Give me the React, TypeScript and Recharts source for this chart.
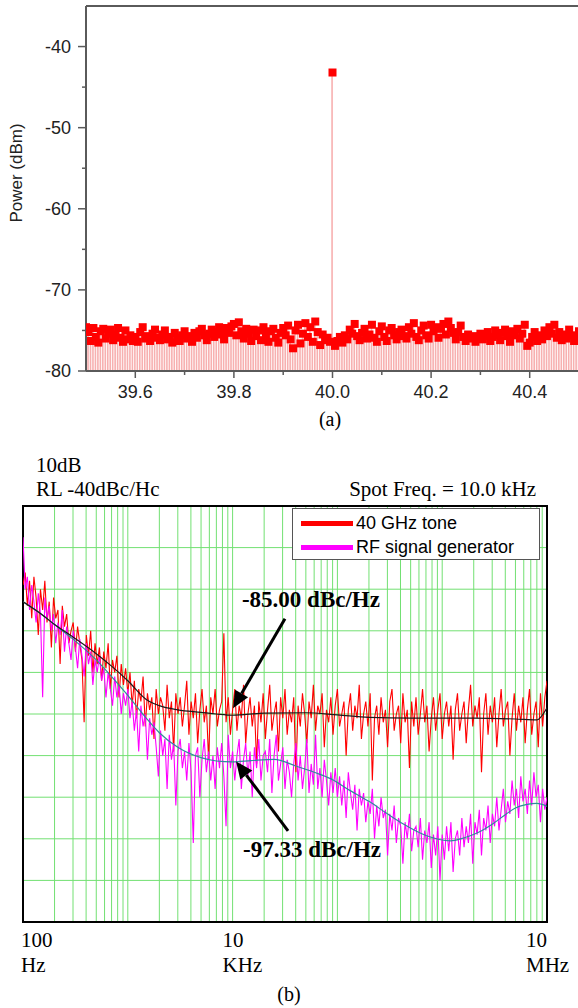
import React from "react";
import {
  ComposedChart,
  LineChart,
  Line,
  Bar,
  Scatter,
  XAxis,
  YAxis,
  CartesianGrid,
  ReferenceLine,
  ReferenceArea,
  Legend,
} from "recharts";

const SERIF = '"Liberation Serif", "Times New Roman", serif';
const SANS = '"Liberation Sans", Arial, sans-serif';

// ---- (a) RF spectrum around 40 GHz ----
const SPEC_START_GHZ = 39.5;
const SPEC_STEP_GHZ = 0.005;
const SPEC_DBM = [
  -74.6, -75.2, -76.3, -74.7, -75.8, -76.5, -75.1, -74.8, -76.0, -75.4,
  -74.9, -76.2, -75.5, -74.7, -75.9, -76.4, -75.0, -76.1, -75.6, -76.3,
  -75.8, -76.4, -75.2, -74.6, -76.0, -75.7, -76.3, -75.4, -74.9, -75.9,
  -76.2, -75.5, -75.0, -76.1, -75.8, -76.5, -75.3, -75.9, -76.3, -75.6,
  -75.1, -76.0, -75.7, -76.4, -75.3, -75.9, -75.1, -74.8, -75.6, -76.2,
  -75.4, -74.9, -75.8, -75.2, -74.6, -75.5, -76.1, -74.7, -75.3, -74.5,
  -74.2, -75.6, -74.0, -75.1, -76.0, -74.8, -75.4, -76.3, -74.9, -75.7,
  -75.0, -76.2, -74.6, -75.5, -76.4, -75.1, -74.8, -75.9, -76.5, -75.3,
  -74.7, -75.6, -74.4, -76.1, -77.2, -75.0, -74.3, -76.6, -75.4, -74.1,
  -75.8, -74.6, -76.4, -73.9, -75.2, -76.8, -75.5, -76.2, -75.9, -76.4,
  -43.2,
  -76.9, -76.3, -75.8, -76.5, -75.6, -76.1, -74.9, -75.4, -74.2,
  -75.7, -76.2, -75.3, -74.8, -76.0, -75.5, -74.3, -75.9, -76.4, -75.1,
  -74.5, -75.8, -76.3, -75.0, -74.7, -75.6, -76.1, -75.2, -74.9, -75.7,
  -76.0, -74.6, -75.4, -74.1, -75.8, -76.2, -75.0, -74.4, -75.6, -76.0,
  -74.3, -75.1, -74.6, -75.9, -74.8, -74.2, -75.5, -73.9, -74.7, -75.3,
  -76.1, -75.2, -74.4, -75.8, -76.3, -75.5, -76.0, -75.7, -76.4, -75.9,
  -75.4, -76.1, -75.7, -75.2, -76.3, -75.8, -75.0, -75.6, -76.2, -75.3,
  -74.9, -75.7, -76.4, -75.1, -75.6, -74.8, -76.0, -75.4, -74.3, -76.9,
  -76.5, -75.8, -75.2, -76.3, -75.6, -76.1, -75.0, -75.7, -74.6, -75.4,
  -74.3, -75.9, -75.2, -76.2, -75.5, -76.0, -74.9, -75.6, -76.3, -75.8,
  -75.1,
];
const SPEC_X_TICKS = [39.6, 39.7, 39.8, 39.9, 40.0, 40.1, 40.2, 40.3, 40.4];
const SPEC_X_LABELED = [39.6, 39.8, 40.0, 40.2, 40.4];
const SPEC_Y_TICKS = [-80, -75, -70, -65, -60, -55, -50, -45, -40];
const SPEC_Y_LABELED = [-80, -70, -60, -50, -40];

// ---- (b) phase noise, 100 Hz .. 10 MHz, 48 sweep points per decade ----
const SWEEP_START_HZ = 100;
const SWEEP_PTS_PER_DECADE = 48;
const TONE_DBC = [
  -59, -56, -64, -58, -67, -57, -62, -71, -60, -65, -58, -68,
  -63, -74, -62, -67, -65, -78, -64, -69, -66, -73, -70, -68,
  -75, -69, -73, -77, -92, -71, -76, -70, -80, -73, -78, -74,
  -82, -75, -79, -73, -84, -77, -80, -76, -86, -78, -83, -79,
  -85, -80, -88, -82, -91, -84, -87, -81, -93, -85, -89, -86,
  -96, -84, -90, -86, -88, -94, -83, -91, -87, -99, -85, -90,
  -86, -93, -88, -82, -95, -87, -91, -85, -97, -89, -84, -92,
  -88, -101, -86, -90, -84, -93, -89, -87, -70.6, -92, -86, -95,
  -89, -84, -94, -88, -91, -83, -97, -90, -86, -93, -88, -102,
  -87, -92, -85, -96, -89, -83, -94, -90, -87, -99, -86, -91,
  -84, -95, -89, -92, -86, -104, -88, -93, -85, -90, -97, -87,
  -91, -83, -94, -88, -90, -85, -98, -89, -92, -86, -95, -88,
  -84, -93, -90, -87, -100, -89, -85, -94, -88, -91, -83, -96,
  -90, -87, -93, -85, -106, -91, -88, -95, -86, -92, -89, -98,
  -87, -84, -94, -90, -88, -97, -85, -92, -89, -103, -87, -93,
  -86, -95, -90, -84, -92, -88, -99, -91, -86, -94, -89, -85,
  -96, -90, -87, -93, -88, -101, -89, -85, -94, -90, -87, -97,
  -89, -83, -93, -88, -91, -86, -104, -90, -85, -95, -88, -92,
  -86, -98, -90, -84, -93, -89, -87, -100, -91, -85, -94, -88,
  -92, -86, -97, -89, -84, -95, -90, -87, -98, -85, -93, -86,
  -82,
];
const GEN_DBC = [
  -47.5, -60, -57, -65, -59, -63, -68, -61, -66, -86, -62, -67,
  -64, -70, -66, -73, -68, -71, -65, -75, -69, -73, -77, -70,
  -74, -79, -72, -76, -81, -73, -78, -75, -83, -77, -80, -76,
  -82, -79, -86, -80, -84, -88, -81, -86, -83, -90, -85, -88,
  -84, -91, -87, -94, -89, -99, -88, -93, -90, -101, -91, -95,
  -92, -98, -105, -94, -100, -96, -108, -95, -101, -97, -112, -99,
  -96, -103, -99, -106, -97, -104, -121, -100, -98, -110, -101, -96,
  -104, -99, -106, -100, -108, -98, -103, -97, -105, -117, -95, -103,
  -99, -106, -100, -96, -108, -101, -97, -105, -99, -110, -98, -103,
  -96, -106, -100, -99, -104, -96, -109, -100, -95, -106, -102, -98,
  -108, -101, -104, -110, -102, -97, -106, -100, -108, -103, -96, -109,
  -102, -107, -95, -108, -103, -110, -101, -106, -112, -104, -109, -103,
  -110, -105, -112, -106, -115, -104, -109, -113, -107, -118, -108, -112,
  -109, -116, -111, -114, -108, -120, -112, -117, -110, -115, -113, -124,
  -114, -118, -112, -121, -115, -117, -126, -116, -120, -114, -123, -118,
  -117, -122, -115, -125, -118, -121, -116, -127, -119, -124, -117, -130,
  -119, -125, -117, -123, -116, -128, -120, -118, -124, -115, -122, -117,
  -121, -114, -126, -116, -119, -113, -124, -115, -118, -112, -121, -114,
  -117, -110, -118, -113, -108, -116, -111, -114, -106, -112, -108, -115,
  -105, -111, -108, -114, -106, -112, -104, -110, -107, -116, -108, -113,
  -110,
];
// smoothed (averaged) traces drawn by the analyzer
const TONE_AVG_HZ = [100, 150, 200, 300, 500, 700, 1000, 1500, 2000, 3000, 5000, 7000, 10000, 20000, 50000, 1e5, 2e5, 5e5, 1e6, 2e6, 5e6, 8e6, 1e7];
const TONE_AVG_DBC = [-63, -66, -68.5, -71.5, -75.5, -78.5, -82, -86.5, -88, -89, -89.6, -90, -90.3, -89.8, -89.7, -90.2, -90.8, -91, -91, -91, -91.2, -91.4, -88.5];
const GEN_AVG_HZ = [100, 150, 200, 300, 500, 700, 1000, 1500, 2000, 3000, 5000, 7000, 10000, 15000, 25000, 40000, 60000, 87000, 130000, 200000, 300000, 430000, 700000, 1.2e6, 1.6e6, 2.2e6, 3e6, 4e6, 5e6, 6.3e6, 8e6, 1e7];
const GEN_AVG_DBC = [-63, -66, -68.5, -72, -77, -81, -85.5, -91, -94.5, -98, -100.5, -101.3, -101.5, -101.2, -100.9, -102.5, -104, -105.6, -108.3, -111, -114, -116.5, -119.2, -120.5, -119.8, -118.5, -116.5, -114.2, -112.6, -111.8, -111.5, -112.2];

const DECADES_HZ = [100, 1000, 10000, 100000, 1000000];
const GRID_MULT = [1, 2, 3, 4, 5, 6, 7, 8, 9];
const GRID_HZ = [...DECADES_HZ.flatMap((d) => GRID_MULT.map((m) => d * m)), 1e7];
const DBC_TICKS = [-140, -130, -120, -110, -100, -90, -80, -70, -60, -50, -40];
const FREQ_LABEL_HZ = [100, 10000, 10000000];
const FREQ_LABEL_NUM = ["100", "10", "10"];
const FREQ_LABEL_UNIT = ["Hz", "KHz", "MHz"];

const specData = SPEC_DBM.map((p, i) => ({
  f: SPEC_START_GHZ + i * SPEC_STEP_GHZ,
  p,
  range: [-80, p],
}));
const sweepHz = TONE_DBC.map((_, i) => SWEEP_START_HZ * Math.pow(10, i / SWEEP_PTS_PER_DECADE));
const toneData = sweepHz.map((f, i) => ({ f, v: TONE_DBC[i] }));
const genData = sweepHz.map((f, i) => ({ f, v: GEN_DBC[i] }));
const toneAvg = TONE_AVG_HZ.map((f, i) => ({ f, v: TONE_AVG_DBC[i] }));
const genAvg = GEN_AVG_HZ.map((f, i) => ({ f, v: GEN_AVG_DBC[i] }));

const near = (a: number, b: number) => Math.abs(a - b) < 1e-6;

function SpecXTick({ x, y, payload }: any) {
  const major = SPEC_X_LABELED.some((m) => near(m, payload.value));
  return (
    <g>
      <line x1={x} y1={y} x2={x} y2={y + (major ? 7 : 4)} stroke="#5a5a5a" strokeWidth={1.5} />
      {major && (
        <text x={x} y={y + 27} textAnchor="middle" fontFamily={SANS} fontSize={18} fill="#222">
          {payload.value.toFixed(1)}
        </text>
      )}
    </g>
  );
}

function SpecYTick({ x, y, payload }: any) {
  const major = SPEC_Y_LABELED.some((m) => near(m, payload.value));
  return (
    <g>
      <line x1={x - (major ? 8 : 4)} y1={y} x2={x} y2={y} stroke="#5a5a5a" strokeWidth={1.5} />
      {major && (
        <text x={x - 15} y={y + 6} textAnchor="end" fontFamily={SANS} fontSize={18} fill="#222">
          {payload.value}
        </text>
      )}
    </g>
  );
}

function FreqTick({ x, y, payload }: any) {
  const k = FREQ_LABEL_HZ.findIndex((v) => Math.abs(v - payload.value) / v < 1e-6);
  if (k < 0) return <g />;
  // 100 Hz sits at the left corner, 10 MHz at the right one
  const numX = k === 0 ? x - 2 : k === 1 ? x - 10 : x;
  const numAnchor = k === 2 ? "end" : "start";
  const unitX = k === 0 ? x - 2 : k === 1 ? x - 10 : x - 21;
  return (
    <g fontFamily={SERIF} fontSize={21} fill="#000">
      <text x={numX} y={y + 25} textAnchor={numAnchor}>{FREQ_LABEL_NUM[k]}</text>
      <text x={unitX} y={y + 50} textAnchor="start">{FREQ_LABEL_UNIT[k]}</text>
    </g>
  );
}

function NoTick() {
  return <g />;
}

function Square({ cx, cy }: any) {
  return <rect x={cx - 4} y={cy - 4} width={8} height={8} fill="#ff0000" />;
}

function arrowWithText(label: string, dx: number, dy: number) {
  return (p: any) => {
    const { x1, y1, x2, y2 } = p;
    const ang = Math.atan2(y2 - y1, x2 - x1);
    const head = 17;
    const half = 7.5;
    const bx = x2 - head * Math.cos(ang);
    const by = y2 - head * Math.sin(ang);
    const nx = -Math.sin(ang) * half;
    const ny = Math.cos(ang) * half;
    return (
      <g>
        <line x1={x1} y1={y1} x2={bx} y2={by} stroke="#000" strokeWidth={3} />
        <polygon points={`${x2},${y2} ${bx + nx},${by + ny} ${bx - nx},${by - ny}`} fill="#000" />
        <text x={x1 + dx} y={y1 + dy} fontFamily={SERIF} fontWeight="bold" fontSize={23} fill="#000">
          {label}
        </text>
      </g>
    );
  };
}

function LegendBox({ payload }: any) {
  const items = (payload || []).filter((p: any) => p.type !== "none");
  return (
    <div
      style={{
        boxSizing: "border-box",
        width: 248,
        height: 52,
        border: "1px solid #555",
        background: "#fff",
        padding: "2px 0 0 8px",
      }}
    >
      {items.map((p: any) => (
        <div key={p.value} style={{ display: "flex", alignItems: "center", height: 24 }}>
          <span style={{ display: "inline-block", width: 52, height: 5, background: p.color }} />
          <span style={{ fontFamily: SANS, fontSize: 18, color: "#000", marginLeft: 3, lineHeight: "24px" }}>
            {p.value}
          </span>
        </div>
      ))}
    </div>
  );
}

export default function App() {
  return (
    <div style={{ position: "absolute", left: 0, top: 0, width: 578, height: 1008, background: "#fff", overflow: "hidden" }}>
      {/* (a) spectrum */}
      <div style={{ position: "absolute", left: 0, top: 0 }}>
        <ComposedChart width={579} height={440} data={specData} margin={{ top: 6, right: 0, bottom: 0, left: 0 }}>
          <XAxis
            type="number"
            dataKey="f"
            domain={[39.5, 40.5]}
            ticks={SPEC_X_TICKS}
            interval={0}
            allowDataOverflow
            height={69}
            tickSize={0}
            tickMargin={0}
            tickLine={false}
            axisLine={{ stroke: "#5a5a5a", strokeWidth: 2 }}
            tick={<SpecXTick />}
          />
          <YAxis
            type="number"
            domain={[-80, -35]}
            ticks={SPEC_Y_TICKS}
            interval={0}
            allowDataOverflow
            width={86}
            tickSize={0}
            tickMargin={0}
            tickLine={false}
            axisLine={{ stroke: "#5a5a5a", strokeWidth: 2 }}
            tick={<SpecYTick />}
          />
          <ReferenceLine y={-35} stroke="#5a5a5a" strokeWidth={2} />
          <Bar dataKey="range" fill="#f7b0b0" barSize={1.6} isAnimationActive={false} />
          <Scatter dataKey="p" fill="#ff0000" shape={Square} isAnimationActive={false} />
        </ComposedChart>
      </div>

      {/* (b) phase noise */}
      <div style={{ position: "absolute", left: 0, top: 440 }}>
        <LineChart width={578} height={568} margin={{ top: 66, right: 31, bottom: 0, left: 23 }}>
          <CartesianGrid stroke="#72e072" strokeWidth={1} />
          <XAxis
            type="number"
            dataKey="f"
            scale="log"
            domain={[100, 1e7]}
            ticks={GRID_HZ}
            interval={0}
            allowDataOverflow
            height={86}
            tickSize={0}
            tickMargin={0}
            tickLine={false}
            axisLine={false}
            tick={<FreqTick />}
          />
          <YAxis
            type="number"
            domain={[-140, -40]}
            ticks={DBC_TICKS}
            interval={0}
            allowDataOverflow
            width={0}
            tickSize={0}
            tickMargin={0}
            tick={<NoTick />}
            tickLine={false}
            axisLine={false}
          />
          <Line data={toneData} dataKey="v" name="40 GHz tone" stroke="#ff0000" strokeWidth={1.1} dot={false} activeDot={false} isAnimationActive={false} />
          <Line data={genData} dataKey="v" name="RF signal generator" stroke="#ff00ff" strokeWidth={1.1} dot={false} activeDot={false} isAnimationActive={false} />
          <Line data={genAvg} dataKey="v" legendType="none" stroke="#2f8c9c" strokeWidth={1.2} dot={false} activeDot={false} isAnimationActive={false} type="monotone" />
          <Line data={toneAvg} dataKey="v" legendType="none" stroke="#1a1a1a" strokeWidth={1.2} dot={false} activeDot={false} isAnimationActive={false} type="monotone" />
          <ReferenceArea x1={100} x2={1e7} y1={-140} y2={-40} fill="none" stroke="#000" strokeWidth={2} ifOverflow="visible" />
          <ReferenceLine
            segment={[{ x: 31600, y: -67.1 }, { x: 10100, y: -88.6 }]}
            shape={arrowWithText("-85.00 dBc/Hz", -43, -12)}
            ifOverflow="visible"
          />
          <ReferenceLine
            segment={[{ x: 33800, y: -118.1 }, { x: 10800, y: -101.4 }]}
            shape={arrowWithText("-97.33 dBc/Hz", -45, 26)}
            ifOverflow="visible"
          />
          <Legend
            layout="vertical"
            align="center"
            verticalAlign="middle"
            wrapperStyle={{ left: 292, top: 68, width: 248 }}
            content={<LegendBox />}
          />
        </LineChart>
      </div>

      {/* titles and captions */}
      <svg width={578} height={1008} style={{ position: "absolute", left: 0, top: 0, pointerEvents: "none" }}>
        <text transform="translate(22,173) rotate(-90)" textAnchor="middle" fontFamily={SANS} fontSize={17} fill="#222">
          Power (dBm)
        </text>
        <text x={330} y={426} textAnchor="middle" fontFamily={SERIF} fontSize={20} fill="#000">(a)</text>
        <text x={36} y={472} fontFamily={SERIF} fontSize={21} fill="#000">10dB</text>
        <text x={36} y={496} fontFamily={SERIF} fontSize={21} fill="#000">RL -40dBc/Hc</text>
        <text x={536} y={496} textAnchor="end" fontFamily={SERIF} fontSize={21} fill="#000">Spot Freq. = 10.0 kHz</text>
        <text x={289} y={1001} textAnchor="middle" fontFamily={SERIF} fontSize={20} fill="#000">(b)</text>
      </svg>
    </div>
  );
}
